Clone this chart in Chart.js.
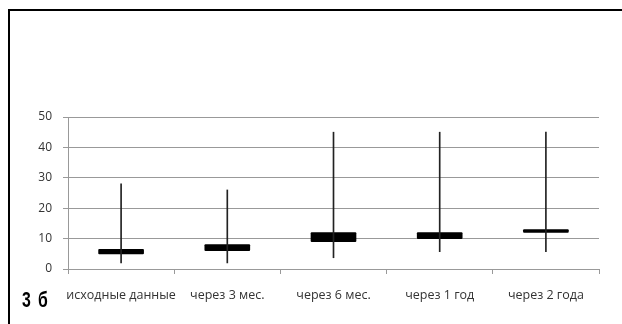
<!DOCTYPE html>
<html>
<head>
<meta charset="utf-8">
<script src="https://cdn.jsdelivr.net/npm/chart.js@4"></script>
<style>
    html, body { margin: 0; padding: 0; background: #fff; }
    #wrap { position: relative; width: 622px; height: 324px; overflow: hidden; }
    #frame { position: absolute; left: 8px; top: 9px; width: 640px; height: 340px;
             border-left: 2px solid #000; border-top: 2px solid #000; }
    #tag { position: absolute; left: 22px; top: 287px; font-family: "Liberation Sans", sans-serif;
           font-weight: bold; font-size: 22px; color: #000; transform: scaleX(0.72); transform-origin: left top;
           word-spacing: 4px; }
    canvas { position: absolute; left: 0; top: 0; }
</style>
</head>
<body>
<div id="wrap">
    <canvas id="chart" width="622" height="324"></canvas>
    <div id="frame"></div>
    <div id="tag">3 б</div>
</div>
<script>
const categories = ['исходные данные', 'через 3 мес.', 'через 6 мес.', 'через 1 год', 'через 2 года'];
const lowValues = [2, 2, 3.7, 5.7, 5.7];
const highValues = [28, 26, 45, 45, 45];
const boxBottom = [5, 6, 9, 10, 12];
const boxTop = [6.5, 8, 12, 12, 13];

const wicks = categories.map((c, i) => [lowValues[i], highValues[i]]);
const boxes = categories.map((c, i) => [boxBottom[i], boxTop[i]]);

const ctx = document.getElementById('chart').getContext('2d');

const config = {
    type: 'bar',
    data: {
        labels: categories,
        datasets: [
            {
                label: 'min-max',
                data: wicks,
                backgroundColor: '#222',
                barThickness: 1,
                grouped: false,
            },
            {
                label: 'box',
                data: boxes,
                backgroundColor: '#000',
                barThickness: 45,
                borderRadius: 1,
                borderSkipped: false,
                grouped: false,
            }
        ]
    },
    options: {
        responsive: false,
        animation: false,
        layout: {
            padding: { left: 10, right: 23, top: 117, bottom: 0 }
        },
        plugins: {
            legend: { display: false },
            title: { display: false },
            tooltip: { enabled: false }
        },
        scales: {
            x: {
                offset: true,
                grid: {
                    display: true,
                    offset: true,
                    drawOnChartArea: false,
                    tickLength: 5,
                    color: '#999'
                },
                border: { color: '#999' },
                ticks: {
                    color: '#333',
                    padding: 14,
                    autoSkip: false,
                    maxRotation: 0,
                    font: { family: 'Open Sans', size: 12.5 }
                },
                afterFit: (scale) => { scale.height = 55; }
            },
            y: {
                min: 0,
                max: 50,
                grid: {
                    color: '#999',
                    tickLength: 5
                },
                border: { color: '#999' },
                ticks: {
                    stepSize: 10,
                    color: '#333',
                    padding: 11,
                    font: { family: 'Open Sans', size: 12 }
                },
                afterFit: (scale) => { scale.width = 58; }
            }
        }
    }
};

new Chart(ctx, config);
</script>
</body>
</html>
